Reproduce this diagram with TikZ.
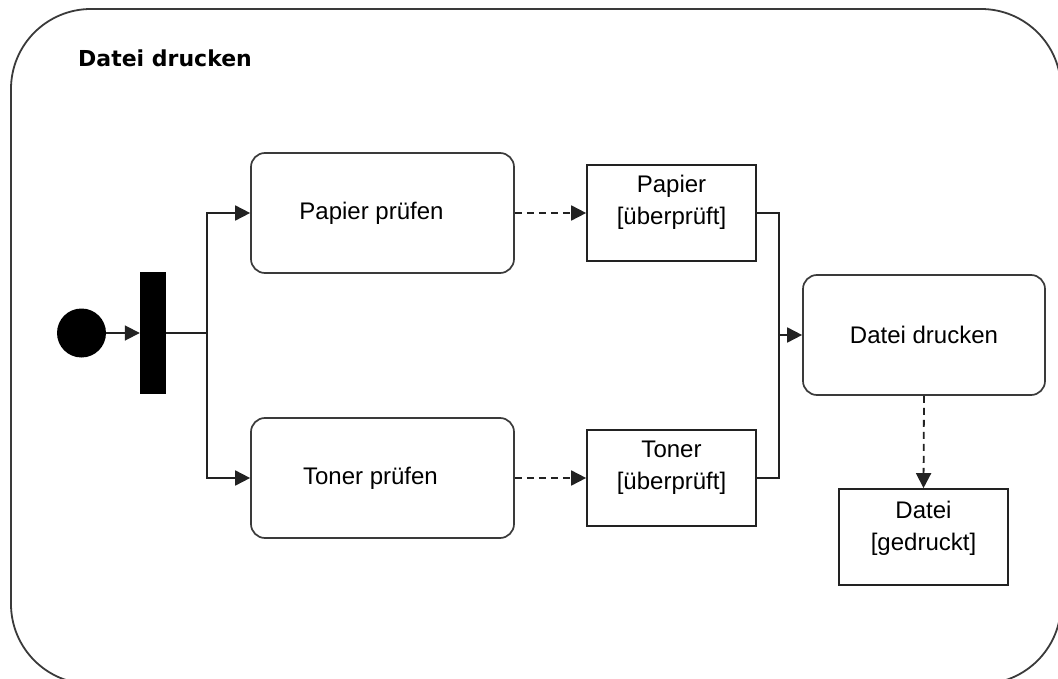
\documentclass[tikz,border=0pt]{standalone}
\usepackage{fontspec}
\setmainfont{Liberation Sans}
\newfontfamily\titlefont{DejaVu Sans}
\usetikzlibrary{arrows.meta}

\definecolor{linecol}{HTML}{222222}
\definecolor{framecol}{HTML}{3A3A3A}

\tikzset{
  body/.style={font=\fontsize{24}{32}\selectfont, text=black},
  action/.style={draw=framecol, line width=1.7pt, rounded corners=14pt,
    minimum width=263pt, minimum height=120pt, inner sep=0pt, body},
  objbox/.style={draw=linecol, line width=1.7pt, minimum width=169pt,
    minimum height=96pt, inner sep=0pt},
  objtext/.style={anchor=north, align=center, inner sep=0pt, body},
  flow/.style={draw=linecol, line width=1.8pt},
  arr/.style={flow, -{Triangle[length=15pt,width=15pt]}},
  dasharr/.style={arr, dash pattern=on 7pt off 5pt},
}

\begin{document}
\begin{tikzpicture}[x=1pt, y=-1pt]
  \useasboundingbox (0,0) rectangle (1058,679);

  % surrounding activity frame, running past the lower and right edges
  \begin{scope}
    \clip (0,0) rectangle (1058,679);
    \draw[framecol, line width=1.8pt, rounded corners=80pt]
      (11,9) rectangle (1061,684);
  \end{scope}

  \node[anchor=base west, inner sep=0pt, font=\titlefont\bfseries\fontsize{22}{26}\selectfont]
    (title) at (78,67) {Datei drucken};

  % initial node and fork bar
  \node[circle, fill=black, minimum size=49pt, inner sep=0pt] (start) at (81.5,333) {};
  \node[rectangle, fill=black, minimum width=26pt, minimum height=122pt, inner sep=0pt]
    (bar) at (153,333) {};
  \coordinate (fork) at (207,333);

  % actions (labels sit a little left of centre)
  \node[action] (pp) at (382.5,213) {Papier prüfen\hspace*{22pt}};
  \node[action] (tp) at (382.5,478) {Toner prüfen\hspace*{24pt}};
  \node[action, minimum width=242pt] (dd) at (924,335) {Datei drucken};

  % object nodes
  \node[objbox] (po) at (671.5,213) {};
  \node[objtext] (pol) at ([yshift=-11pt]po.north) {Papier\\{}[überprüft]};
  \node[objbox] (to) at (671.5,478) {};
  \node[objtext] (tol) at ([yshift=-12pt]to.north) {Toner\\{}[überprüft]};
  \node[objbox] (df) at (923.5,537) {};
  \node[objtext] (dfl) at ([yshift=-13pt]df.north) {Datei\\{}[gedruckt]};

  \coordinate (join) at (779,335);

  % connectors
  \draw[arr] (start) -- (bar);
  \draw[flow] (bar.east) -- (fork);
  \draw[arr] (fork) |- (pp.west);
  \draw[arr] (fork) |- (tp.west);
  \draw[dasharr] (pp.east) -- (po.west);
  \draw[dasharr] (tp.east) -- (to.west);
  \draw[flow] (po.east) -| (join);
  \draw[flow] (to.east) -| (join);
  \draw[arr] (join) -- (dd.west);
  \draw[dasharr] (dd.south) -- (df.north);
\end{tikzpicture}
\end{document}
